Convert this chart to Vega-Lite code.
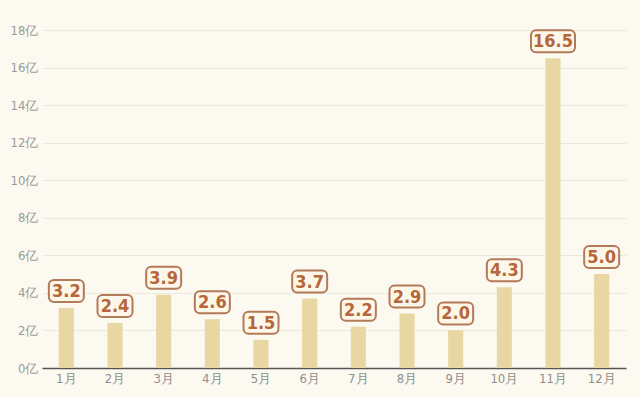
{
  "$schema": "https://vega.github.io/schema/vega-lite/v6.json",
  "width": 584,
  "height": 338,
  "autosize": {"type": "none"},
  "padding": {"left": 42, "top": 30, "right": 14, "bottom": 29},
  "background": "#fcfaf0",
  "config": {"view": {"stroke": null}},
  "data": {
    "values": [
      {"m": "1月", "v": 3.2},
      {"m": "2月", "v": 2.4},
      {"m": "3月", "v": 3.9},
      {"m": "4月", "v": 2.6},
      {"m": "5月", "v": 1.5},
      {"m": "6月", "v": 3.7},
      {"m": "7月", "v": 2.2},
      {"m": "8月", "v": 2.9},
      {"m": "9月", "v": 2.0},
      {"m": "10月", "v": 4.3},
      {"m": "11月", "v": 16.5},
      {"m": "12月", "v": 5.0}
    ]
  },
  "encoding": {
    "x": {
      "field": "m", "type": "nominal", "sort": null,
      "scale": {"paddingInner": 0.69, "paddingOuter": 0.345},
      "axis": {
        "title": null, "labelAngle": 0, "ticks": false,
        "domainColor": "#555555", "domainWidth": 1.5,
        "labelColor": "#8f8f8f", "labelFont": "DejaVu Sans Condensed",
        "labelFontSize": 13, "labelPadding": 4
      }
    },
    "y": {
      "field": "v", "type": "quantitative",
      "scale": {"domain": [0, 18], "nice": false},
      "axis": {
        "title": null, "values": [0, 2, 4, 6, 8, 10, 12, 14, 16, 18],
        "labelExpr": "datum.value + '亿'",
        "labelOverlap": false, "labelFlush": false,
        "ticks": false, "domain": false,
        "gridColor": "#ebe8dc", "gridWidth": 1.2,
        "labelColor": "#9a9a9a", "labelFont": "DejaVu Sans Condensed",
        "labelFontSize": 13, "labelPadding": 4
      }
    }
  },
  "layer": [
    {
      "mark": {"type": "bar", "color": "#e8d7a3"}
    },
    {
      "mark": {
        "type": "bar", "fill": "#fdf7ea", "stroke": "#b37a58", "strokeWidth": 2,
        "cornerRadius": 5, "yOffset": -6, "y2Offset": -28
      },
      "encoding": {
        "y2": {"field": "v"},
        "size": {"condition": {"test": "datum.v >= 10", "value": 44}, "value": 35}
      }
    },
    {
      "mark": {
        "type": "text", "font": "DejaVu Sans Condensed", "fontWeight": "bold",
        "fontSize": 18, "color": "#b5673a", "baseline": "middle", "dy": -16
      },
      "encoding": {
        "text": {"field": "v", "type": "quantitative", "format": ".1f"}
      }
    }
  ]
}
